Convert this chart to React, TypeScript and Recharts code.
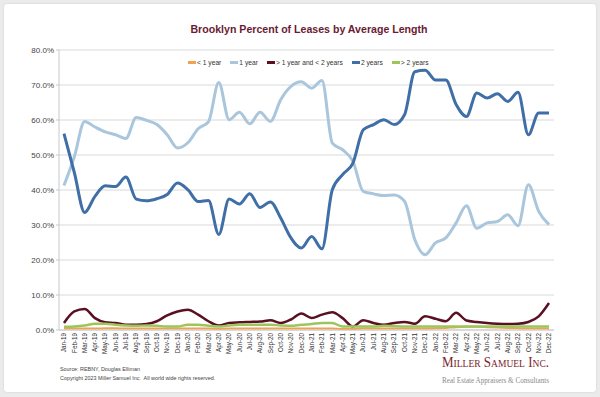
import { LineChart, Line, XAxis, YAxis, CartesianGrid, Legend } from "recharts";

const months = [
  "Jan-19", "Feb-19", "Mar-19", "Apr-19", "May-19", "Jun-19", "Jul-19", "Aug-19", "Sep-19", "Oct-19", "Nov-19", "Dec-19",
  "Jan-20", "Feb-20", "Mar-20", "Apr-20", "May-20", "Jun-20", "Jul-20", "Aug-20", "Sep-20", "Oct-20", "Nov-20", "Dec-20",
  "Jan-21", "Feb-21", "Mar-21", "Apr-21", "May-21", "Jun-21", "Jul-21", "Aug-21", "Sep-21", "Oct-21", "Nov-21", "Dec-21",
  "Jan-22", "Feb-22", "Mar-22", "Apr-22", "May-22", "Jun-22", "Jul-22", "Aug-22", "Sep-22", "Oct-22", "Nov-22", "Dec-22",
];

const lessThanOneYear = [
  0.4, 0.4, 0.4, 0.4, 0.5, 0.5, 0.4, 0.4, 0.4, 0.4, 0.4, 0.4,
  0.4, 0.4, 0.4, 0.3, 0.4, 0.4, 0.4, 0.4, 0.4, 0.4, 0.4, 0.4,
  0.4, 0.4, 0.4, 0.3, 0.3, 0.4, 0.4, 0.4, 0.4, 0.4, 0.4, 0.4,
  0.5, 0.6, 0.8, 0.9, 0.9, 0.8, 0.7, 0.6, 0.5, 0.4, 0.4, 0.4,
];

const oneYear = [
  41.3, 49.5, 59.6, 58, 56.6, 55.8, 54.7, 60.7, 59.9, 58.7, 55.8, 52,
  53.5, 57.5, 59.5, 70.7, 60.1, 62.2, 58.9, 62.2, 59.6, 65.8, 69.6, 70.9,
  69.1, 71.3, 53.4, 51.5, 48.2, 39.6, 38.9, 38.4, 38.6, 36.8, 25.8, 21.5,
  24.9, 26.3, 30.6, 35.5, 29.1, 30.6, 31, 32.9, 29.8, 41.5, 33.9, 30.1,
];

const oneToTwoYears = [
  2, 5.3, 6, 3.4, 2.2, 2, 1.5, 1.5, 1.7, 2.5, 4.2, 5.3,
  5.8, 4.4, 2.5, 1.3, 2, 2.2, 2.3, 2.4, 2.8, 2, 3, 4.7,
  3.4, 4.4, 5.1, 3.4, 1, 2.8, 2, 1.5, 2, 2.3, 1.8, 3.9,
  3.2, 2.5, 4.9, 2.7, 2.3, 2, 1.8, 1.7, 1.8, 2.3, 3.9, 7.7,
];

const twoYears = [
  56.1, 45, 33.6, 38.2, 41.2, 41, 43.7, 37.4, 36.9, 37.5, 38.7, 42,
  40.1, 36.7, 37, 27.3, 37.4, 36, 38.9, 35, 36.6, 32, 26.3, 23.4,
  26.7, 23.2, 40.1, 44.4, 47.7, 57.2, 58.7, 60.1, 58.7, 61.5, 73.8, 74.2,
  71.4, 71.4, 64.4, 61, 67.7, 66.3, 67.5, 65.3, 67.9, 55.8, 62, 62,
];

const moreThanTwoYears = [
  0.9, 1, 1.3, 1.8, 1.8, 1.5, 1.3, 1.2, 1.3, 1.2, 1, 1,
  1.5, 1.5, 1.2, 1, 1.3, 1.5, 1.5, 1.5, 1.5, 1.3, 1.2, 1.5,
  1.7, 2, 2, 1, 1, 1, 1, 1.2, 1.1, 1, 1, 1,
  1, 1, 1, 1, 1, 1, 1, 1, 1, 1, 1, 1,
];

const yTicks = [0, 10, 20, 30, 40, 50, 60, 70, 80];

const series = [
  { key: "lt1", name: "< 1 year", color: "#f2a24f", width: 2 },
  { key: "y1", name: "1 year", color: "#a9c6dc", width: 3 },
  { key: "y1to2", name: "> 1 year and < 2 years", color: "#5a0f22", width: 2.5 },
  { key: "y2", name: "2 years", color: "#3f6fa6", width: 3 },
  { key: "gt2", name: "> 2 years", color: "#9cc65c", width: 2.5 },
];

const data = months.map((m, i) => ({
  month: m,
  lt1: lessThanOneYear[i],
  y1: oneYear[i],
  y1to2: oneToTwoYears[i],
  y2: twoYears[i],
  gt2: moreThanTwoYears[i],
}));

const font = "'Liberation Sans', Arial, sans-serif";

const MonthTick = ({ x, y, payload }: any) => (
  <text
    x={x}
    y={y}
    transform={`rotate(-90 ${x} ${y})`}
    textAnchor="end"
    dy="0.35em"
    fontSize={6.3}
    fontFamily={font}
    fill="#333"
  >
    {payload.value}
  </text>
);

const LegendBox = () => (
  <div style={{ display: "flex", justifyContent: "flex-start", paddingLeft: 188, fontFamily: font, fontSize: 6.7, color: "#333" }}>
    {series.map((s) => (
      <div key={s.key} style={{ display: "flex", alignItems: "center", marginRight: 9 }}>
        <span style={{ display: "inline-block", width: 8, height: 3, background: s.color, marginRight: 1 }} />
        <span>{s.name}</span>
      </div>
    ))}
  </div>
);

export default function App() {
  return (
    <div style={{ position: "absolute", left: 0, top: 0, width: 600, height: 397, background: "#ebebeb", overflow: "hidden" }}>
      <div
        style={{
          position: "absolute",
          left: 4,
          top: 4,
          width: 592,
          height: 388,
          background: "#fff",
          borderRadius: 3,
          boxShadow: "0 0 2px rgba(0,0,0,0.15)",
        }}
      />
      <div
        style={{
          position: "absolute",
          left: 0,
          top: 23,
          width: 618,
          textAlign: "center",
          fontFamily: font,
          fontWeight: "bold",
          fontSize: 10.6,
          color: "#6a1b32",
        }}
      >
        Brooklyn Percent of Leases by Average Length
      </div>
      <div style={{ position: "absolute", left: 0, top: 0 }}>
        <LineChart width={600} height={397} data={data} margin={{ top: 50, right: 46, bottom: 27, left: 0 }}>
          <CartesianGrid vertical={false} stroke="#d9d9d9" />
          <XAxis
            dataKey="month"
            interval={0}
            height={40}
            padding={{ left: 5, right: 5 }}
            tickLine={false}
            tickSize={2}
            tickMargin={1}
            axisLine={{ stroke: "#c8c8c8" }}
            tick={<MonthTick />}
          />
          <YAxis
            width={59}
            domain={[0, 80]}
            ticks={yTicks}
            tickFormatter={(v: number) => v.toFixed(1) + "%"}
            tick={{ fontSize: 8, fill: "#444", fontFamily: font }}
            tickSize={3}
            tickMargin={2}
            axisLine={{ stroke: "#c8c8c8" }}
            tickLine={{ stroke: "#c8c8c8" }}
          />
          <Legend
            verticalAlign="middle"
            align="center"
            content={<LegendBox />}
            wrapperStyle={{ top: 59, left: 0, width: 600 }}
          />
          {series.map((s) => (
            <Line
              key={s.key}
              type="monotone"
              dataKey={s.key}
              name={s.name}
              stroke={s.color}
              strokeWidth={s.width}
              dot={false}
              isAnimationActive={false}
            />
          ))}
        </LineChart>
      </div>
      <div style={{ position: "absolute", left: 60, top: 365, fontFamily: font, fontSize: 5.4, color: "#444", lineHeight: "9px" }}>
        <div>Source: REBNY, Douglas Elliman</div>
        <div>Copyright 2023 Miller Samuel Inc.&nbsp; All world wide rights reserved.</div>
      </div>
      <svg style={{ position: "absolute", left: 0, top: 0 }} width={600} height={397}>
        <text
          x={442}
          y={367}
          fontFamily="'Liberation Serif', 'Times New Roman', serif"
          fontSize={15}
          fill="#7a1e2e"
          style={{ fontVariant: "small-caps" }}
          textLength={107}
          lengthAdjust="spacingAndGlyphs"
        >
          Miller Samuel Inc.
        </text>
        <text
          x={442}
          y={383}
          fontFamily="'Liberation Serif', 'Times New Roman', serif"
          fontSize={8}
          fill="#8a8a8a"
          textLength={107}
          lengthAdjust="spacingAndGlyphs"
        >
          Real Estate Appraisers &amp; Consultants
        </text>
      </svg>
    </div>
  );
}
